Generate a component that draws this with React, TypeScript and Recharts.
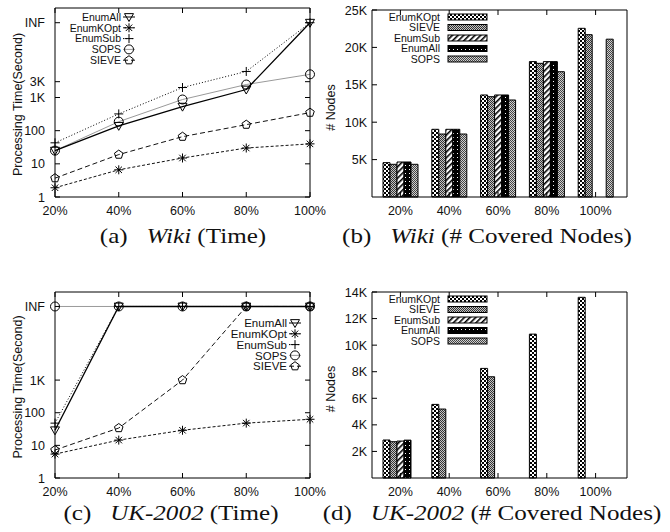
import React from "react";
import { LineChart, Line, BarChart, Bar, XAxis, YAxis } from "recharts";

const percents = ["20%", "40%", "60%", "80%", "100%"];
const INF = 180000;

// Wiki, processing time in seconds (INF = did not finish)
const wikiEnumAll = [25, 140, 530, 1740, INF];
const wikiEnumKOpt = [1.9, 6.6, 15, 30, 40];
const wikiEnumSub = [43, 320, 2000, 6100, INF];
const wikiSOPS = [25, 187, 870, 2460, 5000];
const wikiSIEVE = [3.7, 19, 66, 152, 350];

// UK-2002, processing time in seconds
const ukEnumAll = [29, INF, INF, INF, INF];
const ukEnumKOpt = [5.4, 14.5, 29, 48, 63];
const ukEnumSub = [48, INF, INF, INF, INF];
const ukSOPS = [INF, INF, INF, INF, INF];
const ukSIEVE = [7.2, 34, 1000, INF, INF];

// covered nodes
const wikiNodesEnumKOpt = [4590, 9050, 13640, 18100, 22550];
const wikiNodesSIEVE = [4370, 8420, 13410, 17870, 21700];
const wikiNodesEnumSub = [4680, 9050, 13640, 18100, null];
const wikiNodesEnumAll = [4680, 9050, 13640, 18100, null];
const wikiNodesSOPS = [4370, 8420, 12970, 16750, 21100];

const ukNodesEnumKOpt = [2860, 5540, 8250, 10830, 13600];
const ukNodesSIEVE = [2730, 5190, 7620, null, null];
const ukNodesEnumSub = [2780, null, null, null, null];
const ukNodesEnumAll = [2850, null, null, null, null];
const ukNodesSOPS = [null, null, null, null, null];

const wikiTimeTicks = [1, 10, 100, 1000, 3000, INF];
const ukTimeTicks = [1, 10, 100, 1000, INF];
const wikiNodeTicks = [5000, 10000, 15000, 20000, 25000];
const ukNodeTicks = [2000, 4000, 6000, 8000, 10000, 12000, 14000];

const lineNames = ["EnumAll", "EnumKOpt", "EnumSub", "SOPS", "SIEVE"];
const barNames = ["EnumKOpt", "SIEVE", "EnumSub", "EnumAll", "SOPS"];

const lineStyle: Record<string, { stroke: string; dash?: string; width: number; shape: string }> = {
  EnumAll: { stroke: "#000", width: 1.3, shape: "triangle" },
  EnumKOpt: { stroke: "#111", dash: "3 2", width: 1, shape: "star" },
  EnumSub: { stroke: "#000", dash: "1 2", width: 1, shape: "plus" },
  SOPS: { stroke: "#9a9a9a", width: 1, shape: "circle" },
  SIEVE: { stroke: "#111", dash: "5 3", width: 1, shape: "pentagon" },
};

const barFill: Record<string, string> = {
  EnumKOpt: "url(#pKOpt)",
  SIEVE: "url(#pSieve)",
  EnumSub: "url(#pSub)",
  EnumAll: "url(#pAll)",
  SOPS: "url(#pSops)",
};

const zip = (cols: Record<string, (number | null)[]>) =>
  percents.map((p, i) => {
    const row: Record<string, string | number | null> = { pct: p };
    Object.keys(cols).forEach((k) => (row[k] = cols[k][i]));
    return row;
  });

const wikiTime = zip({ EnumAll: wikiEnumAll, EnumKOpt: wikiEnumKOpt, EnumSub: wikiEnumSub, SOPS: wikiSOPS, SIEVE: wikiSIEVE });
const ukTime = zip({ EnumAll: ukEnumAll, EnumKOpt: ukEnumKOpt, EnumSub: ukEnumSub, SOPS: ukSOPS, SIEVE: ukSIEVE });
const wikiNodes = zip({ EnumKOpt: wikiNodesEnumKOpt, SIEVE: wikiNodesSIEVE, EnumSub: wikiNodesEnumSub, EnumAll: wikiNodesEnumAll, SOPS: wikiNodesSOPS });
const ukNodes = zip({ EnumKOpt: ukNodesEnumKOpt, SIEVE: ukNodesSIEVE, EnumSub: ukNodesEnumSub, EnumAll: ukNodesEnumAll, SOPS: ukNodesSOPS });

const SANS = "'Liberation Sans', Arial, sans-serif";
const SERIF = "'Liberation Serif', 'Times New Roman', serif";

const timeLabel = (v: number) =>
  v === INF ? "INF" : v >= 1000 ? `${v / 1000}K` : `${v}`;
const nodeLabel = (v: number) => `${v / 1000}K`;

function Marker({ shape, cx, cy }: { shape: string; cx: number; cy: number }) {
  const s = 4.5;
  const st = { fill: "none", stroke: "#000", strokeWidth: 1 };
  if (shape === "triangle")
    return <polygon points={`${cx - s},${cy - s * 0.75} ${cx + s},${cy - s * 0.75} ${cx},${cy + s}`} {...st} />;
  if (shape === "star") {
    const d = s * 0.72;
    return (
      <path
        d={`M${cx - s},${cy}H${cx + s}M${cx},${cy - s}V${cy + s}M${cx - d},${cy - d}L${cx + d},${cy + d}M${cx - d},${cy + d}L${cx + d},${cy - d}`}
        {...st}
      />
    );
  }
  if (shape === "plus") return <path d={`M${cx - s},${cy}H${cx + s}M${cx},${cy - s}V${cy + s}`} {...st} />;
  if (shape === "circle") return <circle cx={cx} cy={cy} r={s} {...st} />;
  const pts = [0, 1, 2, 3, 4]
    .map((k) => {
      const a = -Math.PI / 2 + (k * 2 * Math.PI) / 5;
      return `${cx + s * Math.cos(a)},${cy + s * Math.sin(a)}`;
    })
    .join(" ");
  return <polygon points={pts} {...st} />;
}

const LeftTick = (fmt: (v: number) => string, gap: number) => (p: any) => (
  <g>
    <line x1={p.x} x2={p.x + 5} y1={p.y} y2={p.y} stroke="#000" />
    <text x={p.x - gap} y={p.y} dy="0.36em" textAnchor="end" fontSize={12.5} fontFamily={SANS} fill="#111">
      {fmt(p.payload.value)}
    </text>
  </g>
);
const RightTick = (p: any) => <line x1={p.x} x2={p.x - 5} y1={p.y} y2={p.y} stroke="#000" />;
const BottomTick = (p: any) => (
  <g>
    <line x1={p.x} x2={p.x} y1={p.y} y2={p.y - 5} stroke="#000" />
    <text x={p.x} y={p.y + 18} textAnchor="middle" fontSize={12.5} fontFamily={SANS} fill="#111">
      {p.payload.value}
    </text>
  </g>
);
const TopTick = (p: any) => <line x1={p.x} x2={p.x} y1={p.y} y2={p.y + 5} stroke="#000" />;

const yTitle = (text: string, x: number, y: number) => () => (
  <text x={x} y={y} transform={`rotate(-90, ${x}, ${y})`} textAnchor="middle" dy="0.35em" fontSize={12.5} fontFamily={SANS} fill="#111">
    {text}
  </text>
);

function TimeChart({ data, ticks, height, top }: { data: any[]; ticks: number[]; height: number; top: number }) {
  return (
    <LineChart width={335} height={height} data={data} margin={{ top, right: 24, bottom: 0, left: 0 }}>
      <XAxis dataKey="pct" tickSize={0} tickMargin={0} tick={BottomTick} stroke="#000" height={33} interval={0} />
      <XAxis xAxisId="top" orientation="top" dataKey="pct" tickSize={0} tickMargin={0} tick={TopTick} stroke="#000" height={1} interval={0} />
      <YAxis
        scale="log"
        type="number"
        domain={[1, 500000]}
        allowDataOverflow
        ticks={ticks}
        interval={0}
        width={55}
        tickSize={0}
        tickMargin={0}
        tick={LeftTick(timeLabel, 10)}
        stroke="#000"
        label={yTitle("Processing Time(Second)", 18, (height + top) / 2 - 14)}
      />
      <YAxis yAxisId="right" orientation="right" scale="log" type="number" domain={[1, 500000]} allowDataOverflow ticks={ticks} interval={0} width={1} tickSize={0} tickMargin={0} tick={RightTick} stroke="#000" />
      {["SOPS", "SIEVE", "EnumKOpt", "EnumSub", "EnumAll"].map((n) => (
        <Line
          key={n}
          dataKey={n}
          stroke={lineStyle[n].stroke}
          strokeWidth={lineStyle[n].width}
          strokeDasharray={lineStyle[n].dash}
          isAnimationActive={false}
          activeDot={false}
          dot={(p: any) => (
            <g key={`${n}-${p.index}`}>
              <Marker shape={lineStyle[n].shape} cx={p.cx} cy={p.cy} />
            </g>
          )}
        />
      ))}
    </LineChart>
  );
}

function NodeChart({ data, ticks, max, height, top }: { data: any[]; ticks: number[]; max: number; height: number; top: number }) {
  return (
    <BarChart width={350} height={height} data={data} margin={{ top, right: 42, bottom: 0, left: 0 }} barGap={0} barSize={7}>
      <XAxis dataKey="pct" tickSize={0} tickMargin={0} tick={BottomTick} stroke="#000" height={33} interval={0} padding={{ left: 4, right: 7 }} />
      <XAxis xAxisId="top" orientation="top" dataKey="pct" tickSize={0} tickMargin={0} tick={TopTick} stroke="#000" height={1} interval={0} padding={{ left: 4, right: 7 }} />
      <YAxis
        type="number"
        domain={[0, max]}
        ticks={ticks}
        interval={0}
        width={52}
        tickSize={0}
        tickMargin={0}
        tick={LeftTick(nodeLabel, 5)}
        stroke="#000"
        label={yTitle("# Nodes", 11, (height + top) / 2 - 12)}
      />
      <YAxis yAxisId="right" orientation="right" type="number" domain={[0, max]} ticks={ticks} interval={0} width={1} tickSize={0} tickMargin={0} tick={RightTick} stroke="#000" />
      {barNames.map((n) => (
        <Bar key={n} dataKey={n} fill={barFill[n]} stroke="#000" strokeWidth={1} isAnimationActive={false} />
      ))}
    </BarChart>
  );
}

function LineLegend({ x, y, size, step }: { x: number; y: number; size: number; step: number }) {
  return (
    <svg style={{ position: "absolute", left: 0, top: 0, overflow: "visible" }} width={1} height={1}>
      {lineNames.map((n, i) => {
        const cy = y + i * step;
        const s = lineStyle[n];
        return (
          <g key={n}>
            <text x={x} y={cy} dy="0.36em" textAnchor="end" fontSize={size} fontFamily={SANS} fill="#111">
              {n}
            </text>
            <line x1={x + 2} x2={x + 14} y1={cy} y2={cy} stroke={s.stroke} strokeDasharray={s.dash} />
            <Marker shape={s.shape} cx={x + 8} cy={cy} />
          </g>
        );
      })}
    </svg>
  );
}

function BarLegend({ x, y }: { x: number; y: number }) {
  return (
    <svg style={{ position: "absolute", left: 0, top: 0, overflow: "visible" }} width={1} height={1}>
      {barNames.map((n, i) => {
        const cy = y + i * 10.5;
        return (
          <g key={n}>
            <text x={x} y={cy} dy="0.36em" textAnchor="end" fontSize={10.5} fontFamily={SANS} fill="#111">
              {n}
            </text>
            <rect x={x + 8} y={cy - 3} width={39} height={6} fill={barFill[n]} stroke="#000" />
          </g>
        );
      })}
    </svg>
  );
}

function Caption({ cx, cy, children }: { cx: number; cy: number; children: React.ReactNode }) {
  return (
    <div
      style={{
        position: "absolute",
        left: cx - 170,
        top: cy - 13,
        width: 340,
        height: 26,
        lineHeight: "26px",
        textAlign: "center",
        fontFamily: SERIF,
        fontSize: 22,
        whiteSpace: "pre",
        color: "#111",
        transform: "scaleX(1.14)",
      }}
    >
      {children}
    </div>
  );
}

export default function App() {
  return (
    <div style={{ position: "absolute", left: 0, top: 0, width: 670, height: 532, background: "#fff", overflow: "hidden" }}>
      <svg width={0} height={0} style={{ position: "absolute" }}>
        <defs>
          <pattern id="pKOpt" width={4} height={4} patternUnits="userSpaceOnUse">
            <rect width={4} height={4} fill="#fff" />
            <rect width={2} height={2} fill="#000" />
            <rect x={2} y={2} width={2} height={2} fill="#000" />
          </pattern>
          <pattern id="pSieve" width={2} height={2} patternUnits="userSpaceOnUse">
            <rect width={2} height={2} fill="#c4c4c4" />
            <rect width={1} height={1} fill="#333" />
            <rect x={1} y={1} width={1} height={1} fill="#333" />
          </pattern>
          <pattern id="pSub" width={4} height={4} patternUnits="userSpaceOnUse" patternTransform="rotate(45)">
            <rect width={4} height={4} fill="#fff" />
            <rect width={1.6} height={4} fill="#000" />
          </pattern>
          <pattern id="pAll" width={4} height={4} patternUnits="userSpaceOnUse">
            <rect width={4} height={4} fill="#000" />
            <rect x={1} y={1} width={1} height={1} fill="#fff" />
          </pattern>
          <pattern id="pSops" width={2} height={2} patternUnits="userSpaceOnUse">
            <rect width={2} height={2} fill="#d0d0d0" />
            <rect width={1} height={1} fill="#444" />
            <rect x={1} y={1} width={1} height={1} fill="#444" />
          </pattern>
        </defs>
      </svg>

      <div style={{ position: "absolute", left: 0, top: 0 }}>
        <TimeChart data={wikiTime} ticks={wikiTimeTicks} height={230} top={7} />
      </div>
      <div style={{ position: "absolute", left: 320, top: 0 }}>
        <NodeChart data={wikiNodes} ticks={wikiNodeTicks} max={25000} height={230} top={9} />
      </div>
      <div style={{ position: "absolute", left: 0, top: 260 }}>
        <TimeChart data={ukTime} ticks={ukTimeTicks} height={251} top={31} />
      </div>
      <div style={{ position: "absolute", left: 320, top: 260 }}>
        <NodeChart data={ukNodes} ticks={ukNodeTicks} max={14000} height={251} top={31} />
      </div>

      <LineLegend x={121} y={17} size={10.5} step={10.8} />
      <BarLegend x={440} y={17} />
      <LineLegend x={287} y={323} size={11.5} step={10.8} />
      <BarLegend x={440} y={299} />

      <Caption cx={183} cy={236}>
        (a){"\u2002 "}<i>Wiki</i> (Time)
      </Caption>
      <Caption cx={487} cy={236}>
        (b){"\u2002 "}<i>Wiki</i> (# Covered Nodes)
      </Caption>
      <Caption cx={171} cy={513}>
        (c){"\u2002 "}<i>UK-2002</i> (Time)
      </Caption>
      <Caption cx={492} cy={513}>
        (d){"\u2002 "}<i>UK-2002</i> (# Covered Nodes)
      </Caption>
    </div>
  );
}
